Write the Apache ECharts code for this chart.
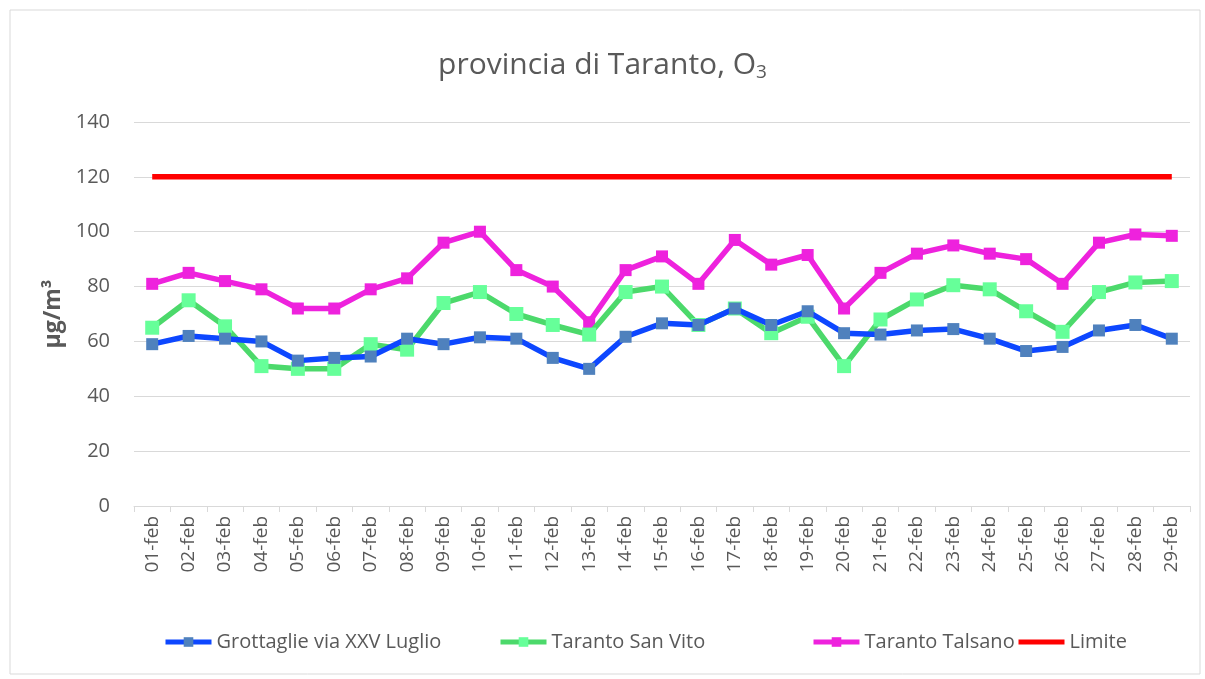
<!DOCTYPE html>
<html>
<head>
<meta charset="utf-8">
<script src="https://cdn.jsdelivr.net/npm/echarts@6/dist/echarts.min.js"></script>
<style>
  html, body { margin: 0; padding: 0; background: #fff; }
  #main { width: 1205px; height: 679px; }
</style>
</head>
<body>
<div id="main"></div>
<script type="text/javascript">
    var days = ['01-feb', '02-feb', '03-feb', '04-feb', '05-feb', '06-feb', '07-feb', '08-feb', '09-feb', '10-feb',
        '11-feb', '12-feb', '13-feb', '14-feb', '15-feb', '16-feb', '17-feb', '18-feb', '19-feb', '20-feb',
        '21-feb', '22-feb', '23-feb', '24-feb', '25-feb', '26-feb', '27-feb', '28-feb', '29-feb'];
    var grottaglie = [59, 62, 61, 60, 53, 54, 54.5, 61, 59, 61.5, 61, 54, 50, 61.7, 66.6, 66, 72, 66, 71, 63,
        62.5, 64, 64.5, 61, 56.5, 58, 64, 66, 61];
    var sanVito = [65, 75, 65.5, 51, 50, 50, 59, 57, 74, 78, 70, 66, 62.5, 78, 80, 66, 72, 63, 69, 51,
        68, 75.3, 80.5, 79, 71, 63.5, 78, 81.5, 82];
    var talsano = [81, 85, 82, 79, 72, 72, 79, 83, 96, 100, 86, 80, 67, 86, 91, 81, 97, 88, 91.5, 72,
        85, 92, 95, 92, 90, 81, 96, 99, 98.5];
    var limite = days.map(function () { return 120; });
    var names = ['Grottaglie via XXV Luglio', 'Taranto San Vito', 'Taranto Talsano', 'Limite'];
    var legendLeft = [158, 493, 806, 1011];

    var font = '"Open Sans", sans-serif';
    var myChart = echarts.init(document.getElementById('main'));

    // una legenda per voce, posizionate come nel grafico Excel
    var legends = names.map(function (n, i) {
        var item = {name: n};
        if (n === 'Limite') {
            item.itemStyle = {opacity: 0};
        }
        return {
            bottom: 22,
            left: legendLeft[i],
            itemWidth: 46,
            itemHeight: 12,
            lineStyle: {width: 5},
            textStyle: {fontSize: 20, color: '#595959', fontFamily: font},
            data: [item]
        };
    });

    var option = {
        animation: false,
        textStyle: {fontFamily: font},
        graphic: [{
            type: 'rect',
            shape: {x: 10, y: 10, width: 1190, height: 664},
            style: {fill: 'none', stroke: '#d9d9d9', lineWidth: 1},
            silent: true
        }],
        title: {
            text: 'provincia di Taranto, O{sub|3}',
            left: 'center',
            top: 44,
            textStyle: {
                fontFamily: font,
                fontSize: 30,
                fontWeight: 'normal',
                color: '#595959',
                rich: {
                    sub: {fontSize: 19, color: '#595959', fontFamily: font, padding: [14, 0, 0, 0]}
                }
            }
        },
        legend: legends,
        grid: {
            left: 134,
            right: 15,
            top: 122,
            bottom: 173
        },
        xAxis: {
            type: 'category',
            boundaryGap: true,
            data: days,
            axisLine: {lineStyle: {color: '#d9d9d9', width: 1}},
            axisTick: {show: true, length: 6, lineStyle: {color: '#d9d9d9'}},
            axisLabel: {
                rotate: 90,
                fontSize: 19,
                color: '#595959',
                margin: 10,
                interval: 0
            }
        },
        yAxis: {
            type: 'value',
            min: 0,
            max: 140,
            interval: 20,
            name: 'µg/m³',
            nameLocation: 'middle',
            nameGap: 64,
            nameTextStyle: {fontSize: 23, fontWeight: 'bold', color: '#595959', fontFamily: font},
            axisLine: {show: false},
            axisTick: {show: false},
            axisLabel: {fontSize: 20, color: '#595959', margin: 24},
            splitLine: {lineStyle: {color: '#d9d9d9', width: 1}}
        },
        series: [
            {
                name: names[0],
                type: 'line',
                data: grottaglie,
                symbol: 'rect',
                symbolSize: 12,
                lineStyle: {color: '#0d47ff', width: 5.5},
                itemStyle: {color: '#4f81bd'},
                z: 4
            },
            {
                name: names[1],
                type: 'line',
                data: sanVito,
                symbol: 'rect',
                symbolSize: 14,
                lineStyle: {color: '#4cd96b', width: 5.5},
                itemStyle: {color: '#66ff99'},
                z: 3
            },
            {
                name: names[2],
                type: 'line',
                data: talsano,
                symbol: 'rect',
                symbolSize: 12,
                lineStyle: {color: '#ee22dd', width: 5.5},
                itemStyle: {color: '#ee22dd'},
                z: 2
            },
            {
                name: names[3],
                type: 'line',
                data: limite,
                symbol: 'none',
                lineStyle: {color: '#ff0000', width: 5.5},
                itemStyle: {color: '#ff0000'},
                z: 1
            }
        ]
    };
    myChart.setOption(option);
</script>
</body>
</html>
